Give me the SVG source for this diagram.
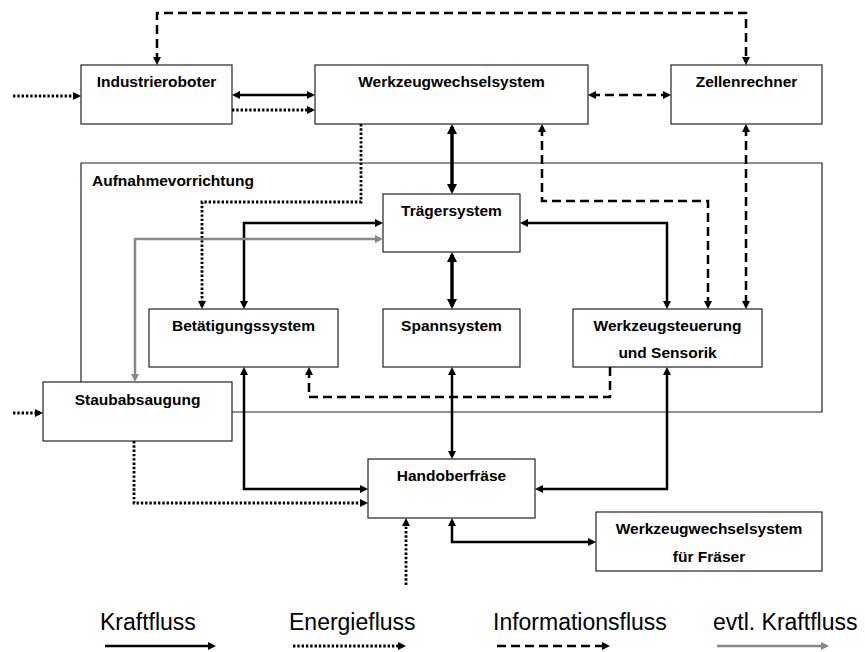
<svg xmlns="http://www.w3.org/2000/svg" width="865" height="652" viewBox="0 0 865 652">
<style>
.box{fill:#fff;stroke:#222;stroke-width:1.2}
.lbl{font-family:"Liberation Sans",Arial,sans-serif;font-weight:bold;font-size:15.5px;text-anchor:middle;fill:#000}
.leg{font-family:"Liberation Sans",Arial,sans-serif;font-size:23px;fill:#000}
.k{fill:none;stroke:#000;stroke-width:2.5}
.kt{fill:none;stroke:#000;stroke-width:3.5}
.e{fill:none;stroke:#000;stroke-width:2.8;stroke-dasharray:2.4 1.9}
.i{fill:none;stroke:#000;stroke-width:2.5;stroke-dasharray:9 5}
.g{fill:none;stroke:#888;stroke-width:2.5}
.frame{fill:none;stroke:#222;stroke-width:1.2}
</style>
<defs>
<marker id="a" viewBox="0 0 10 10" refX="6.25" refY="5" markerWidth="8" markerHeight="8" markerUnits="userSpaceOnUse" orient="auto-start-reverse"><path d="M0,0 L10,5 L0,10z" fill="#000"/></marker>
<marker id="at" viewBox="0 0 10 10" refX="7" refY="5" markerWidth="10" markerHeight="10" markerUnits="userSpaceOnUse" orient="auto-start-reverse"><path d="M0,0 L10,5 L0,10z" fill="#000"/></marker>
<marker id="ag" viewBox="0 0 10 10" refX="6.25" refY="5" markerWidth="8" markerHeight="8" markerUnits="userSpaceOnUse" orient="auto-start-reverse"><path d="M0,0 L10,5 L0,10z" fill="#888"/></marker>
</defs>

<g id="aufnahmevorrichtung">
<path class="frame" d="M81,382 V163 H822 V412 H232"/>
<text x="92" y="186" class="lbl" style="text-anchor:start">Aufnahmevorrichtung</text>
</g>

<g id="industrieroboter"><rect class="box" x="81" y="65" width="151" height="59"/><text class="lbl" x="156.5" y="87">Industrieroboter</text></g>
<g id="werkzeugwechselsystem"><rect class="box" x="315" y="65" width="273" height="59"/><text class="lbl" x="451.5" y="87">Werkzeugwechselsystem</text></g>
<g id="zellenrechner"><rect class="box" x="671" y="65" width="151" height="59"/><text class="lbl" x="746.5" y="87">Zellenrechner</text></g>
<g id="traegersystem"><rect class="box" x="383" y="194" width="137" height="58"/><text class="lbl" x="451.5" y="216">Trägersystem</text></g>
<g id="betaetigungssystem"><rect class="box" x="149" y="309" width="189" height="58"/><text class="lbl" x="243.5" y="331">Betätigungssystem</text></g>
<g id="spannsystem"><rect class="box" x="383" y="309" width="137" height="58"/><text class="lbl" x="451.5" y="331">Spannsystem</text></g>
<g id="werkzeugsteuerung"><rect class="box" x="573" y="309" width="189" height="58"/><text class="lbl" x="667.5" y="331">Werkzeugsteuerung</text><text class="lbl" x="667.5" y="358">und Sensorik</text></g>
<g id="staubabsaugung"><rect class="box" x="43" y="382" width="189" height="59"/><text class="lbl" x="137.5" y="405">Staubabsaugung</text></g>
<g id="handoberfraese"><rect class="box" x="368" y="459" width="167" height="59"/><text class="lbl" x="451.5" y="481">Handoberfräse</text></g>
<g id="wzw-fraeser"><rect class="box" x="596" y="512" width="226" height="59"/><text class="lbl" x="709" y="534">Werkzeugwechselsystem</text><text class="lbl" x="709" y="562">für Fräser</text></g>

<g id="connectors">
<path class="i" d="M157,62 V13 H746 V62" marker-start="url(#a)" marker-end="url(#a)"/>
<path class="k" d="M235,95 H312" marker-start="url(#a)" marker-end="url(#a)"/>
<path class="e" d="M232,110 H312" marker-end="url(#a)"/>
<path class="e" d="M13,96 H78" marker-end="url(#a)"/>
<path class="i" d="M591,95 H668" marker-start="url(#a)" marker-end="url(#a)"/>
<path class="kt" d="M452,127 V191" marker-start="url(#at)" marker-end="url(#at)"/>
<path class="i" d="M542,127 V201 H708 V306" marker-start="url(#a)" marker-end="url(#a)"/>
<path class="i" d="M746,127 V306" marker-start="url(#a)" marker-end="url(#a)"/>
<path class="e" d="M361,124 V202 H202 V306" marker-end="url(#a)"/>
<path class="k" d="M244,306 V223 H380" marker-start="url(#a)" marker-end="url(#a)"/>
<path class="g" d="M380,239 H135 V379" marker-start="url(#ag)" marker-end="url(#ag)"/>
<path class="k" d="M523,223 H667 V306" marker-start="url(#a)" marker-end="url(#a)"/>
<path class="kt" d="M452,255 V306" marker-start="url(#at)" marker-end="url(#at)"/>
<path class="i" d="M610,367 V397 H309 V370" marker-end="url(#a)"/>
<path class="k" d="M452,370 V456" marker-start="url(#a)" marker-end="url(#a)"/>
<path class="k" d="M244,370 V489 H365" marker-start="url(#a)" marker-end="url(#a)"/>
<path class="k" d="M667,370 V489 H538" marker-start="url(#a)" marker-end="url(#a)"/>
<path class="e" d="M134,441 V503 H365" marker-end="url(#a)"/>
<path class="e" d="M13,413 H40" marker-end="url(#a)"/>
<path class="e" d="M406,585 V521" marker-end="url(#a)"/>
<path class="k" d="M452,521 V542 H593" marker-start="url(#a)" marker-end="url(#a)"/>
</g>

<g id="legend">
<text class="leg" x="100" y="630">Kraftfluss</text>
<text class="leg" x="289" y="630">Energiefluss</text>
<text class="leg" x="493" y="630">Informationsfluss</text>
<text class="leg" x="713" y="630">evtl. Kraftfluss</text>
<path class="k" d="M105,646 H213" marker-end="url(#a)"/>
<path class="e" d="M293,646 H403" marker-end="url(#a)"/>
<path class="i" d="M497,646 H607" marker-end="url(#a)"/>
<path class="g" d="M717,646 H826" marker-end="url(#ag)"/>
</g>
</svg>
